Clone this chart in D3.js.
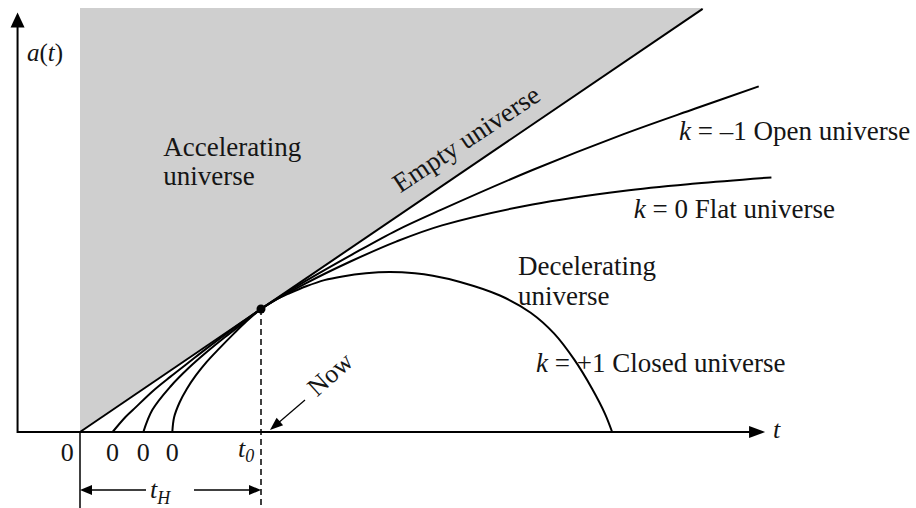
<!DOCTYPE html>
<html>
<head>
<meta charset="utf-8">
<script src="https://d3js.org/d3.v7.min.js"></script>
<style>
  body { margin: 0; background: #fff; }
  text { font-family: "Liberation Serif", "Times New Roman", serif; fill: #151515; }
</style>
</head>
<body>
<svg id="chart" width="916" height="508"></svg>
<script>
// scale factor a(t) against time t, t0 = 1 and a(t0) = 1
const emptyU = [[0, 0], [3.44, 3.44]]
const openU = [[0.18, 0], [0.25, 0.12], [0.30, 0.19], [0.40, 0.33], [0.50, 0.45], [0.60, 0.565], [0.70, 0.68],
  [0.80, 0.79], [0.90, 0.897], [1.00, 1.00], [1.25, 1.23], [1.50, 1.44], [1.75, 1.64], [2.00, 1.81],
  [2.50, 2.13], [3.00, 2.42], [3.40, 2.63], [3.75, 2.81]]
const flatU = [[0.35, 0], [0.40, 0.18], [0.50, 0.37], [0.60, 0.52], [0.70, 0.65], [0.80, 0.77], [0.90, 0.885],
  [1.00, 1.00], [1.25, 1.21], [1.50, 1.39], [1.75, 1.55], [2.00, 1.68], [2.50, 1.85], [3.00, 1.96],
  [3.40, 2.02], [3.82, 2.07]]
const closedU = [[0.51, 0], [0.52, 0.12], [0.55, 0.24], [0.59, 0.35], [0.64, 0.46], [0.70, 0.57], [0.77, 0.68],
  [0.85, 0.80], [0.92, 0.90], [1.00, 1.00], [1.08, 1.075], [1.16, 1.13], [1.25, 1.185],
  [1.35, 1.235], [1.45, 1.265], [1.58, 1.29], [1.71, 1.30], [1.85, 1.29], [1.95, 1.27], [2.10, 1.22],
  [2.32, 1.11], [2.49, 0.97], [2.62, 0.80], [2.73, 0.59], [2.83, 0.35], [2.90, 0.15], [2.94, 0]]

// zero crossings labelled under the t axis
const zeroTicks = [-0.07, 0.18, 0.35, 0.51]
const now = [1, 1]
const tRange = [-0.345, 3.785]
const aTop = 3.41
const shadeTop = 3.447

const width = 916, height = 508
const x = d3.scaleLinear([0, 1], [80, 261])
const y = d3.scaleLinear([0, 1], [432, 309])

const svg = d3.select('#chart')

// accelerating region
svg.append('path')
  .attr('d', d3.line().x(d => x(d[0])).y(d => y(d[1]))([[0, 0], [0, shadeTop], [shadeTop, shadeTop]]))
  .attr('fill', '#cfcfcf')

const line = d3.line()
  .x(d => x(d[0]))
  .y(d => y(d[1]))
  .curve(d3.curveCatmullRom.alpha(0.5))

svg.selectAll('path.curve')
  .data([emptyU, openU, flatU, closedU])
  .join('path')
    .attr('class', 'curve')
    .attr('d', line)
    .attr('fill', 'none')
    .attr('stroke', '#000')
    .attr('stroke-width', 2)

// axes
svg.append('line')
  .attr('x1', x(tRange[0])).attr('x2', x(tRange[1]) - 12)
  .attr('y1', y(0)).attr('y2', y(0))
  .attr('stroke', '#000').attr('stroke-width', 2)
svg.append('line')
  .attr('x1', x(tRange[0])).attr('x2', x(tRange[0]))
  .attr('y1', y(0) + 1).attr('y2', y(aTop) + 12)
  .attr('stroke', '#000').attr('stroke-width', 2)

function arrowHead(tipX, tipY, angle, len, half) {
  const ca = Math.cos(angle), sa = Math.sin(angle)
  const bx = tipX - len * ca, by = tipY - len * sa
  return [[tipX, tipY], [bx - half * sa, by + half * ca], [bx + half * sa, by - half * ca]]
}
const heads = [
  arrowHead(x(tRange[1]), y(0), 0, 16, 6),
  arrowHead(x(tRange[0]), y(aTop), -Math.PI / 2, 15, 7),
  arrowHead(x(0), 490, Math.PI, 12, 5),
  arrowHead(x(1), 490, 0, 12, 5)
]
svg.selectAll('polygon.head')
  .data(heads)
  .join('polygon')
    .attr('class', 'head')
    .attr('points', d => d.map(p => p.join(',')).join(' '))
    .attr('fill', '#000')

// t_H bracket and guide lines
svg.append('line')
  .attr('x1', x(0)).attr('x2', x(0)).attr('y1', y(0)).attr('y2', height)
  .attr('stroke', '#000').attr('stroke-width', 1.5)
svg.append('line')
  .attr('x1', x(now[0])).attr('x2', x(now[0])).attr('y1', y(now[1])).attr('y2', height)
  .attr('stroke', '#000').attr('stroke-width', 1.5).attr('stroke-dasharray', '6,4')
svg.append('line')
  .attr('x1', x(0) + 10).attr('x2', 146).attr('y1', 490).attr('y2', 490)
  .attr('stroke', '#000').attr('stroke-width', 1.5)
svg.append('line')
  .attr('x1', 194).attr('x2', x(1) - 10).attr('y1', 490).attr('y2', 490)
  .attr('stroke', '#000').attr('stroke-width', 1.5)

svg.append('circle')
  .attr('cx', x(now[0])).attr('cy', y(now[1])).attr('r', 4.5)
  .attr('fill', '#000')

// "Now" pointer
const ang = Math.atan2(30, -35)
const tip = [x(now[0]) + 9, y(0) - 2]
svg.append('line')
  .attr('x1', tip[0] + 35).attr('y1', tip[1] - 30)
  .attr('x2', tip[0] - 10 * Math.cos(ang)).attr('y2', tip[1] - 10 * Math.sin(ang))
  .attr('stroke', '#000').attr('stroke-width', 1.2)
svg.append('polygon')
  .attr('points', arrowHead(tip[0], tip[1], ang, 13, 5).map(p => p.join(',')).join(' '))
  .attr('fill', '#000')

// tick labels
svg.selectAll('text.zero')
  .data(zeroTicks)
  .join('text')
    .attr('class', 'zero')
    .attr('x', d => x(d))
    .attr('y', 461)
    .attr('text-anchor', 'middle')
    .style('font-size', '26px')
    .text('0')

const t0 = svg.append('text').attr('x', 238).attr('y', 457).style('font-size', '26px').style('font-style', 'italic')
t0.append('tspan').text('t')
t0.append('tspan').attr('dy', 5).style('font-size', '18px').text('0')

const tH = svg.append('text').attr('x', 150).attr('y', 498).style('font-size', '26px').style('font-style', 'italic')
tH.append('tspan').text('t')
tH.append('tspan').attr('dy', 6).style('font-size', '18px').text('H')

svg.append('text').attr('x', x(tRange[1]) + 8).attr('y', 438)
  .style('font-size', '26px').style('font-style', 'italic').text('t')

const aLab = svg.append('text').attr('x', 27).attr('y', 61).style('font-size', '25px')
aLab.append('tspan').style('font-style', 'italic').text('a')
aLab.append('tspan').text('(')
aLab.append('tspan').style('font-style', 'italic').text('t')
aLab.append('tspan').text(')')

// region / curve labels, placed in data units
const notes = [
  { t: 0.46, a: 2.24, k: null, text: 'Accelerating' },
  { t: 0.46, a: 2.01, k: null, text: 'universe' },
  { t: 2.42, a: 1.28, k: null, text: 'Decelerating' },
  { t: 2.42, a: 1.03, k: null, text: 'universe' },
  { t: 3.31, a: 2.37, k: 'k', text: ' = \u20131 Open universe' },
  { t: 3.06, a: 1.74, k: 'k', text: ' = 0 Flat universe' },
  { t: 2.52, a: 0.49, k: 'k', text: ' = +1 Closed universe' }
]
svg.selectAll('text.note')
  .data(notes)
  .join('text')
    .attr('class', 'note')
    .attr('x', d => x(d.t))
    .attr('y', d => y(d.a))
    .style('font-size', '27px')
    .each(function (d) {
      const el = d3.select(this)
      if (d.k) el.append('tspan').style('font-style', 'italic').text(d.k)
      el.append('tspan').text(d.text)
    })

svg.append('text')
  .attr('transform', `translate(${x(1.77)},${y(1.94)}) rotate(-33.5)`)
  .style('font-size', '27px')
  .text('Empty universe')

svg.append('text')
  .attr('transform', `translate(${x(1.31)},${y(0.28)}) rotate(-42)`)
  .style('font-size', '26px')
  .text('Now')
</script>
</body>
</html>
